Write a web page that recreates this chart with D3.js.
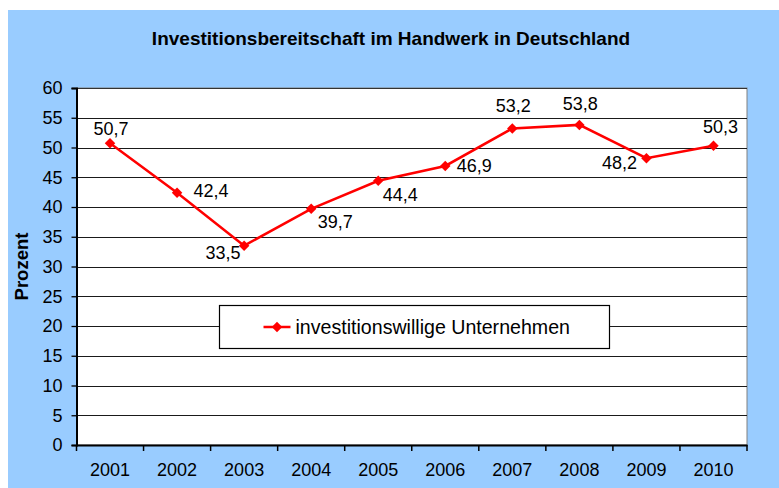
<!DOCTYPE html>
<html>
<head>
<meta charset="utf-8">
<script src="https://cdn.jsdelivr.net/npm/d3@7"></script>
<style>
  body { margin: 0; background: #fff; }
  text { font-family: "Liberation Sans", Arial, sans-serif; fill: #000; }
</style>
</head>
<body>
<svg id="chart" width="779" height="488"></svg>
<script>
const years = ["2001", "2002", "2003", "2004", "2005", "2006", "2007", "2008", "2009", "2010"];
const values = [50.7, 42.4, 33.5, 39.7, 44.4, 46.9, 53.2, 53.8, 48.2, 50.3];
const yTicks = [0, 5, 10, 15, 20, 25, 30, 35, 40, 45, 50, 55, 60];
const seriesName = "investitionswillige Unternehmen";

// where each value label sits relative to its point
const labelOffsets = [[1, -15], [34, -2], [-21, 7], [24, 13], [22, 14], [29, 0], [1, -23], [1, -21], [-27, 4], [7, -19]];

const svg = d3.select("#chart");
const margin = {left: 76.5, right: 32, top: 88, bottom: 43};
const W = 779, H = 488;
const fs = "18px";

svg.append("rect")
    .attr("x", 8).attr("y", 10)
    .attr("width", W - 8).attr("height", H - 10)
    .attr("fill", "#99ccff");

const x = d3.scaleBand()
    .domain(years)
    .range([margin.left, W - margin.right]);

const y = d3.scaleLinear()
    .domain([0, 60])
    .range([H - margin.bottom, margin.top]);

// plot area
svg.append("rect")
    .attr("x", x.range()[0]).attr("y", y(60))
    .attr("width", x.range()[1] - x.range()[0])
    .attr("height", y(0) - y(60))
    .attr("fill", "#fff")
    .attr("stroke", "#808080")
    .attr("stroke-width", 1);

// gridlines
svg.append("g")
    .selectAll("line")
    .data(yTicks.filter(d => d > 0))
    .join("line")
    .attr("x1", x.range()[0]).attr("x2", x.range()[1])
    .attr("y1", d => Math.round(y(d)) + 0.5)
    .attr("y2", d => Math.round(y(d)) + 0.5)
    .attr("stroke", d => d === 60 ? "#333" : "#1a1a1a")
    .attr("stroke-width", 1);

// y axis
const yAxis = svg.append("g")
    .attr("transform", `translate(${x.range()[0]},0)`)
    .call(d3.axisLeft(y).tickValues(yTicks).tickSize(5).tickPadding(9).tickFormat(d3.format("d")));
yAxis.select(".domain").attr("stroke", "#000").attr("stroke-width", 2);
yAxis.selectAll(".tick line").attr("stroke", "#000").attr("stroke-width", 1.3);
yAxis.selectAll(".tick text")
    .style("font-family", "'Liberation Sans', Arial, sans-serif")
    .style("font-size", fs);

// x axis
const xAxis = svg.append("g")
    .attr("transform", `translate(0,${y(0)})`)
    .call(d3.axisBottom(x).tickSize(0).tickPadding(18));
xAxis.select(".domain").attr("stroke", "#000").attr("stroke-width", 2);
xAxis.selectAll(".tick text")
    .style("font-family", "'Liberation Sans', Arial, sans-serif")
    .style("font-size", fs);

// category boundary ticks
const bounds = years.map(d => x(d)).concat([x.range()[1]]);
svg.append("g")
    .selectAll("line")
    .data(bounds)
    .join("line")
    .attr("x1", d => d).attr("x2", d => d)
    .attr("y1", y(0)).attr("y2", y(0) + 6)
    .attr("stroke", "#000")
    .attr("stroke-width", 1.5);

// title
svg.append("text")
    .attr("x", 391).attr("y", 45)
    .attr("text-anchor", "middle")
    .style("font-size", "19px")
    .style("font-weight", "bold")
    .text("Investitionsbereitschaft im Handwerk in Deutschland");

// y label
svg.append("text")
    .attr("transform", `translate(28,${(y(0) + y(60)) / 2}) rotate(-90)`)
    .attr("text-anchor", "middle")
    .style("font-size", "18.5px")
    .style("font-weight", "bold")
    .text("Prozent");

const px = (d, i) => x(years[i]) + x.bandwidth() / 2;

const line = d3.line()
    .x((d, i) => px(d, i))
    .y(d => y(d));

svg.append("path")
    .datum(values)
    .attr("d", line)
    .attr("fill", "none")
    .attr("stroke", "#ff0000")
    .attr("stroke-width", 2.5);

const diamond = d3.symbol().type(d3.symbolDiamond2).size(70);

svg.append("g")
    .selectAll("path")
    .data(values)
    .join("path")
    .attr("d", diamond)
    .attr("transform", (d, i) => `translate(${px(d, i)},${y(d)})`)
    .attr("fill", "#ff0000");

svg.append("g")
    .selectAll("text")
    .data(values)
    .join("text")
    .attr("x", (d, i) => px(d, i) + labelOffsets[i][0])
    .attr("y", (d, i) => y(d) + labelOffsets[i][1])
    .attr("dy", "0.35em")
    .attr("text-anchor", "middle")
    .style("font-size", fs)
    .text(d => d3.format(".1f")(d).replace(".", ","));

// legend
const lg = svg.append("g").attr("transform", "translate(219.5,305.5)");
lg.append("rect")
    .attr("width", 390).attr("height", 43)
    .attr("fill", "#fff")
    .attr("stroke", "#000")
    .attr("stroke-width", 1.2);
lg.append("line")
    .attr("x1", 44).attr("x2", 71)
    .attr("y1", 21.5).attr("y2", 21.5)
    .attr("stroke", "#ff0000")
    .attr("stroke-width", 2.5);
lg.append("path")
    .attr("d", diamond)
    .attr("transform", "translate(57.5,21.5)")
    .attr("fill", "#ff0000");
lg.append("text")
    .attr("x", 76).attr("y", 21.5)
    .attr("dy", "0.35em")
    .style("font-size", "19.6px")
    .text(seriesName);
</script>
</body>
</html>
